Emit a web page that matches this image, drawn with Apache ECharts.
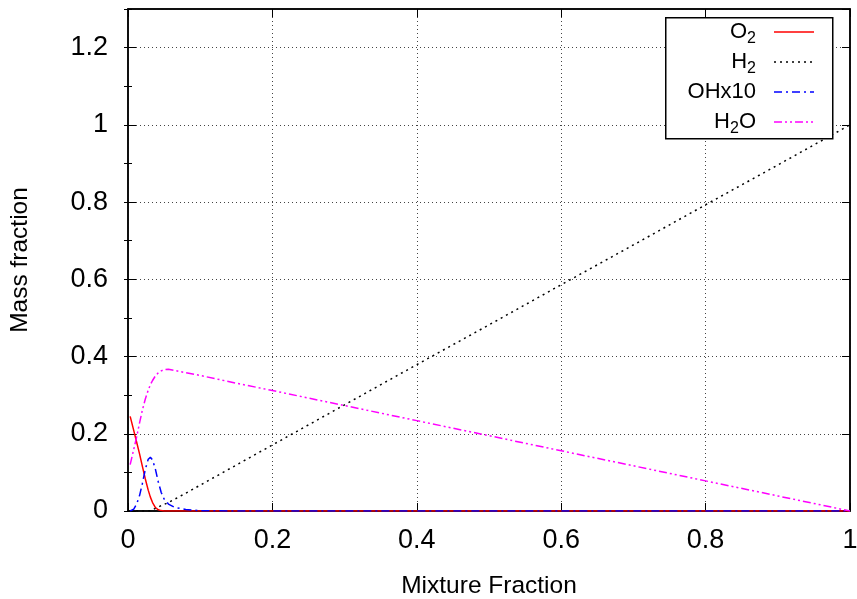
<!DOCTYPE html>
<html>
<head>
<meta charset="utf-8">
<script src="https://cdn.jsdelivr.net/npm/echarts@6/dist/echarts.min.js"></script>
<style>
  html, body { margin: 0; padding: 0; background: #fff; }
  #chart { width: 857px; height: 599px; }
</style>
</head>
<body>
<div id="chart"></div>
<script>
// Mixture fraction samples (x) and species mass fractions
const mixtureFraction = [0.003, 0.008, 0.012, 0.016, 0.02, 0.024, 0.028, 0.031, 0.034, 0.038, 0.042, 0.046, 0.05, 0.056, 0.065, 0.08, 0.1, 0.15, 0.2, 0.3, 0.4, 0.5, 0.6, 0.7, 0.8, 0.9, 1.0];
const o2  = [0.245, 0.208, 0.178, 0.148, 0.115, 0.083, 0.054, 0.036, 0.022, 0.009, 0.003, 0.001, 0, 0, 0, 0, 0, 0, 0, 0, 0, 0, 0, 0, 0, 0, 0];
const h2  = [0, 0, 0, 0, 0, 0, 0, 0.001, 0.003, 0.007, 0.010, 0.014, 0.017, 0.022, 0.031, 0.046, 0.067, 0.119, 0.171, 0.275, 0.379, 0.482, 0.586, 0.689, 0.793, 0.896, 1.0];
const ohX10 = [0.0, 0.005, 0.018, 0.040, 0.072, 0.108, 0.134, 0.139, 0.132, 0.108, 0.075, 0.048, 0.031, 0.018, 0.009, 0.004, 0.001, 0, 0, 0, 0, 0, 0, 0, 0, 0, 0];
const h2o = [0.12, 0.16, 0.192, 0.228, 0.262, 0.29, 0.313, 0.327, 0.338, 0.35, 0.358, 0.363, 0.366, 0.367, 0.364, 0.358, 0.351, 0.331, 0.312, 0.273, 0.234, 0.195, 0.156, 0.117, 0.078, 0.039, 0.0];

const seriesNames = ['O2', 'H2', 'OHx10', 'H2O'];
const xTicks = { min: 0, max: 1, interval: 0.2 };
const yTicks = { min: 0, max: 1.3, interval: 0.2, minor: 0.1 };

const FONT = 'Liberation Sans, Arial, sans-serif';
const pairs = ys => mixtureFraction.map((x, i) => [x, ys[i]]);

const chart = echarts.init(document.getElementById('chart'), null, { renderer: 'canvas' });

const gridLine = { show: true, lineStyle: { color: '#444', width: 1, type: [1, 3] } };
const tickLabel = { fontFamily: FONT, fontSize: 27, color: '#000' };
const nameStyle = { fontFamily: FONT, fontSize: 24.5, color: '#000' };

const styles = [
  { color: '#ff0000', type: 'solid' },
  { color: '#000000', type: [2, 4] },
  { color: '#0000ff', type: [8, 4, 2, 4] },
  { color: '#ff00ff', type: [8, 3, 2, 3, 2, 3] }
];
const values = [o2, h2, ohX10, h2o];

// legend box drawn as graphics (label text right-aligned, line sample at right)
const legendRows = ['{t|O}{s|2}', '{t|H}{s|2}', '{t|OHx10}', '{t|H}{s|2}{t|O}'];
const legendGraphics = [{
  type: 'rect', left: 665, top: 17,
  shape: { width: 167, height: 121 },
  style: { fill: '#fff', stroke: '#000', lineWidth: 1.5 }, z: 100
}];
legendRows.forEach((txt, i) => {
  const cy = 32 + i * 30;
  legendGraphics.push({
    type: 'text', x: 756, y: cy, z: 101,
    style: {
      text: txt, align: 'right', verticalAlign: 'middle',
      rich: {
        t: { fontFamily: FONT, fontSize: 22, fill: '#000', lineHeight: 26 },
        s: { fontFamily: FONT, fontSize: 16, fill: '#000', lineHeight: 26, padding: [14, 0, 0, 0] }
      }
    }
  });
  legendGraphics.push({
    type: 'line', z: 101,
    shape: { x1: 774, y1: cy, x2: 814, y2: cy },
    style: { stroke: styles[i].color, lineWidth: 1.5, lineDash: styles[i].type === 'solid' ? null : styles[i].type }
  });
});

chart.setOption({
  backgroundColor: '#fff',
  animation: false,
  grid: {
    left: 128, right: 7, top: 9, bottom: 88,
    show: true, borderColor: '#000', borderWidth: 1.5,
    containLabel: false, outerBoundsMode: 'none'
  },
  xAxis: [
    {
      type: 'value', min: xTicks.min, max: xTicks.max, interval: xTicks.interval,
      name: 'Mixture Fraction', nameLocation: 'middle', nameGap: 63,
      nameTextStyle: nameStyle,
      axisLine: { show: true, onZero: false, lineStyle: { color: '#000', width: 1.5 } },
      axisTick: { show: true, inside: true, length: 8, lineStyle: { color: '#000', width: 1 } },
      axisLabel: Object.assign({ margin: 16 }, tickLabel),
      splitLine: gridLine
    },
    {
      type: 'value', position: 'top', min: xTicks.min, max: xTicks.max, interval: xTicks.interval,
      axisLine: { show: true, onZero: false, lineStyle: { color: '#000', width: 1.5 } },
      axisTick: { show: true, inside: true, length: 8, lineStyle: { color: '#000', width: 1 } },
      axisLabel: { show: false }, splitLine: { show: false }
    }
  ],
  yAxis: [
    {
      type: 'value', min: yTicks.min, max: yTicks.max, interval: yTicks.interval,
      name: 'Mass fraction', nameLocation: 'middle', nameGap: 95, nameRotate: 90,
      nameTextStyle: nameStyle,
      axisLine: { show: true, onZero: false, lineStyle: { color: '#000', width: 1.5 } },
      axisTick: { show: true, inside: true, length: 8, lineStyle: { color: '#000', width: 1 } },
      axisLabel: Object.assign({ margin: 20, showMaxLabel: false }, tickLabel),
      splitLine: gridLine
    },
    {
      type: 'value', position: 'right', min: yTicks.min, max: yTicks.max, interval: yTicks.interval,
      axisLine: { show: true, onZero: false, lineStyle: { color: '#000', width: 1.5 } },
      axisTick: { show: true, inside: true, length: 8, lineStyle: { color: '#000', width: 1 } },
      axisLabel: { show: false }, splitLine: { show: false }
    },
    {
      type: 'value', position: 'left', min: yTicks.min, max: yTicks.max, interval: yTicks.minor,
      axisLine: { show: false },
      axisTick: { show: true, inside: true, length: 4, lineStyle: { color: '#000', width: 1 } },
      axisLabel: { show: false }, splitLine: { show: false }
    },
    {
      type: 'value', position: 'right', min: yTicks.min, max: yTicks.max, interval: yTicks.minor,
      axisLine: { show: false },
      axisTick: { show: true, inside: true, length: 4, lineStyle: { color: '#000', width: 1 } },
      axisLabel: { show: false }, splitLine: { show: false }
    }
  ],
  series: seriesNames.map((name, i) => ({
    name, type: 'line', xAxisIndex: 0, yAxisIndex: 0,
    data: pairs(values[i]),
    showSymbol: false, symbol: 'none', smooth: false, clip: true,
    lineStyle: { color: styles[i].color, width: 1.5, type: styles[i].type },
    z: 3 + i
  })),
  graphic: legendGraphics
});
</script>
</body>
</html>
